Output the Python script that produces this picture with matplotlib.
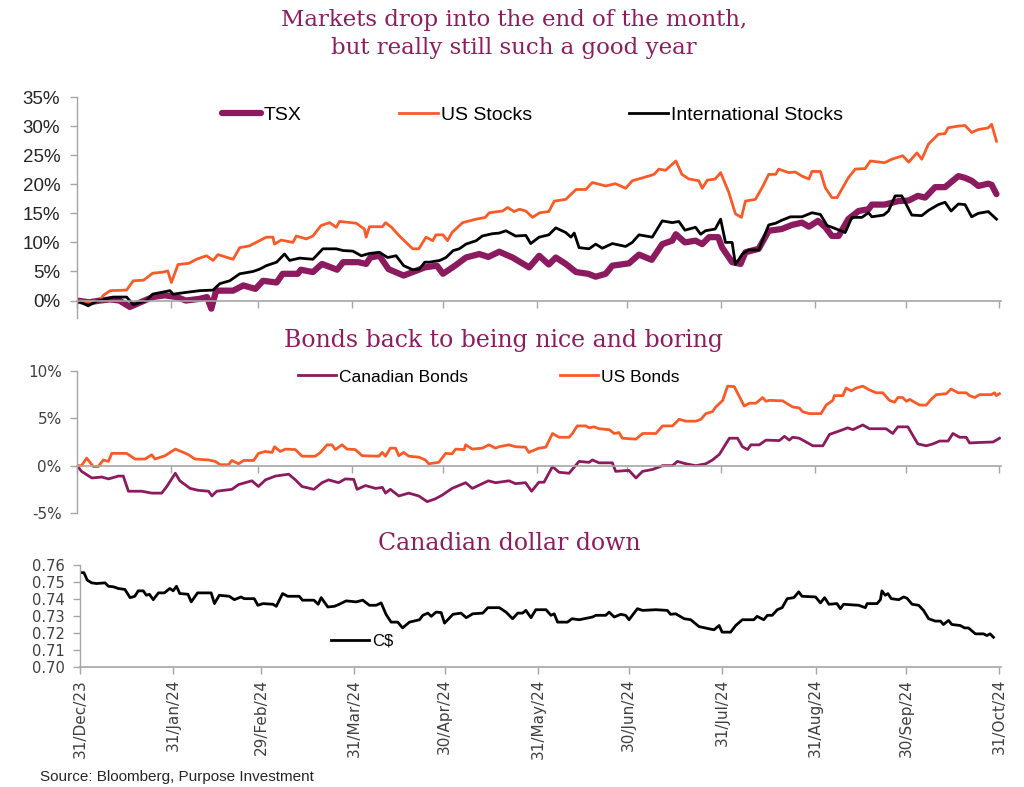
import matplotlib
matplotlib.use("Agg")
import matplotlib.pyplot as plt
import pandas as pd

# ---------------- data (day offset from 31/Dec/23, value) ----------------
tsx = [(0,0),(4,-0.3),(7.6,0),(11,0.2),(14,0),(17.5,-1.1),(21,-0.3),(25,0.6),(29,0.9),(33,0.6),(36,0),(40.6,0.3),
       (43,0.6),(44.4,-1.4),(46,1.7),(51.6,1.7),(55,2.6),(59,2.0),(61.5,3.4),(66,3.1),(68,4.6),(73,4.6),(74,5.3),
       (78,4.9),(81,6.3),(86,5.3),(88,6.6),(93,6.6),(95.6,6.3),(97,7.4),(100,7.7),(103,5.4),(108,4.3),(111,4.9),
       (115,5.7),(119,6.0),(121,4.6),(125,6.0),(128.6,7.4),(133,8.0),(136,7.5),(139.6,8.4),(144,7.4),(149.5,5.7),
       (152.8,7.7),(156,6.2),(158.3,7.4),(161.6,6.3),(165,4.9),(169,4.6),(171.5,4.1),(174.8,4.6),(177,6.0),
       (182.5,6.4),(185.8,7.9),(190,7.0),(193.5,9.7),(196.8,10.3),(198,11.4),(201,10.0),(204.5,10.3),(206.7,9.7),
       (209,10.9),(212,10.9),(213.3,9.1),(216.6,6.6),(219.4,6.3),(221,8.3),(225.4,8.9),(228.7,12.0),(233,12.3),
       (236.4,13.0),(239.7,13.4),(242,12.7),(245,13.7),(247.4,12.6),(249.6,11.1),(251.8,11.1),(255,14.0),
       (258.4,15.4),(261.7,15.7),(262.8,16.5),(267,16.5),(271.6,17.1),(275,17.2),(278,18.0),(280.4,17.7),
       (283.7,19.5),(287,19.5),(291.4,21.4),(293.6,21.1),(295.8,20.6),(298,19.7),(301.3,20.1),(302.4,19.9),(304,18.3)]

us_stocks = [(0,0),(4.2,-0.2),(7.6,0),(8.7,0.9),(11,1.7),(16.4,1.8),(18.6,3.4),(22,3.5),(25,4.7),(28.5,4.9),(30,5.1),
       (31.2,3.1),(33.4,6.2),(37,6.4),(39.5,7.1),(42.8,7.7),(45,6.9),(46.6,7.9),(51.6,7.1),(53.8,9.1),(57,9.4),
       (62.6,10.9),(64.8,10.9),(65.3,9.7),(67.5,10.4),(71.4,10.0),(72.5,11.1),(75.8,10.6),(78,11.1),(80.7,12.9),
       (83.5,13.4),(85.7,12.6),(86.8,13.6),(92.3,13.3),(95,12.3),(95.6,10.9),(96.7,12.7),(101,12.7),(102,13.4),
       (104,12.6),(106.6,11.1),(111,8.9),(113,8.9),(115.4,10.9),(117.6,10.3),(118.7,11.3),(121,11.3),(122.5,10.3),
       (124,11.7),(127.5,13.4),(132,14.0),(135,14.3),(136.3,15.1),(140.7,15.4),(142.4,16.0),(144.5,15.3),
       (146.3,15.7),(148.4,15.4),(150.6,14.3),(153,15.1),(156,15.3),(157.8,17.1),(161.6,17.4),(165,19.1),
       (168.2,19.1),(170.4,20.3),(174.8,19.7),(178,20.1),(181.4,19.3),(183.6,20.6),(187,21.1),(190.8,21.7),
       (192.4,22.6),(194.6,22.4),(198,24.0),(200,21.7),(202.3,20.9),(205.6,20.6),(206.7,19.3),(208.4,20.7),
       (211,20.9),(212.8,22.0),(215.5,18.6),(217.7,14.9),(219.7,14.3),(221,17.1),(224.3,17.4),(226.5,19.4),
       (228.7,21.7),(231,21.7),(232,22.6),(235.3,22.0),(237.5,22.1),(239.7,21.4),(242,20.9),(243,22.2),
       (245.8,22.2),(247.4,19.4),(249.6,17.7),(251.3,17.7),(255,21.1),(257.3,22.6),(260.6,22.7),(262.3,24.0),
       (267,23.7),(269.4,24.3),(273,24.9),(275,23.8),(277.7,25.4),(279.3,24.3),(281.5,26.9),(284.8,28.6),
       (287,28.7),(288,29.7),(291.4,30.0),(293.6,30.1),(295.8,28.9),(298,29.4),(301.3,29.7),(302.4,30.3),(304,27.4)]

intl_stocks = [(0,0),(3.7,-0.9),(6.5,-0.1),(12,0.6),(16.4,0.6),(18.6,-0.7),(23,0),(25,1.1),(30.7,1.7),(31.8,1.1),
       (36,1.4),(40.6,1.7),(45,1.8),(47.2,2.9),(50.5,3.4),(53.8,4.6),(58.2,5.0),(60.4,5.4),(62.6,6.0),(66,6.6),
       (68.6,8.0),(70.3,6.9),(73.6,7.3),(78,7.1),(81.3,8.9),(85.7,8.9),(88,8.6),(91.2,8.5),(94,7.7),(96.7,8.1),
       (100,8.3),(102.7,7.4),(105.5,7.7),(108,6.0),(111,5.3),(113.2,5.4),(115,6.6),(116.5,6.6),(120,6.9),(122,7.4),
       (124.4,8.6),(126.4,8.9),(128.6,9.7),(132,10.3),(134,11.1),(137.4,11.5),(139.6,11.6),(141.8,12.0),(145,11.1),
       (148.4,11.2),(150,9.8),(152.8,10.9),(156,11.3),(158.3,12.5),(161.6,11.7),(163.3,10.9),(164.4,11.6),(166,9.1),
       (169.3,8.9),(171.5,9.7),(173.7,9.0),(177,9.8),(181.4,9.3),(183.6,10.0),(185.8,11.3),(190.2,10.9),(193.5,13.7),
       (196.8,13.4),(199,13.6),(201,12.1),(204.5,12.6),(206.2,11.4),(207.8,12.0),(211,12.3),(212.8,14.0),(214.4,10.0),
       (216.6,10.0),(217.7,6.2),(220,8.0),(222,8.7),(225.4,8.7),(228.7,13.0),(231,13.3),(233,13.8),(235.9,14.4),
       (239.7,14.4),(243,15.1),(245.8,14.8),(248,12.9),(249.6,12.6),(254,11.7),(256.2,14.3),(259.5,14.3),(261.7,15.1),
       (262.8,14.4),(266.7,14.7),(268.3,15.4),(270.5,18.0),(272.7,18.0),(276,14.7),(279.3,14.6),(281.5,15.5),
       (284.8,16.5),(287,16.9),(289,15.4),(291.4,16.6),(293.6,16.5),(295.8,14.4),(298,15.0),(301.3,15.3),(304,14.0)]

cad_bonds = [(0,0),(1.5,-0.6),(4.9,-1.3),(8.2,-1.2),(10.4,-1.4),(13.7,-1.1),(15.3,-1.1),(17,-2.7),(21.4,-2.7),
       (24.7,-2.9),(28,-2.9),(29.7,-2.2),(32.5,-0.8),(34,-1.6),(37.4,-2.4),(40,-2.6),(43.5,-2.7),(44.6,-3.2),
       (46.2,-2.7),(51.2,-2.5),(53.4,-2.0),(57.8,-1.6),(60,-2.2),(62.3,-1.5),(65.6,-1.1),(70,-0.9),(72.2,-1.5),
       (74.4,-2.2),(78.3,-2.5),(81,-1.8),(83.2,-1.5),(86.5,-1.8),(88.7,-1.4),(91.5,-1.45),(92.6,-2.5),(95.4,-2.1),
       (98.7,-2.4),(101,-2.3),(102,-2.9),(103.6,-2.5),(106.4,-3.2),(109.7,-2.9),(113,-3.2),(115.8,-3.8),(118.5,-3.5),
       (120.8,-3.1),(124,-2.4),(128.5,-1.8),(130.7,-2.4),(136,-1.6),(138.4,-1.8),(142.8,-1.6),(145,-1.9),(148.3,-1.8),
       (150.3,-2.7),(152.7,-1.75),(154.4,-1.75),(157.2,-0.1),(159.4,-0.7),(162.7,-0.8),(166,0.45),(169.3,0.35),
       (170.4,0.6),(172.6,0.3),(177,0.3),(178.1,-0.6),(182.5,-0.5),(184.8,-1.3),(187,-0.6),(190.3,-0.4),(193.6,0),
       (196.9,0),(198.5,0.45),(201.3,0.2),(204.6,0),(207.9,0.2),(210.1,0.6),(212.4,1.2),(215.7,2.9),(218.4,2.9),
       (220,2.0),(221.7,1.7),(222.8,2.2),(225.6,2.2),(227.8,2.7),(232.2,2.65),(233.9,3.1),(235.5,2.7),(236.6,3.0),
       (238.8,2.9),(243.3,2.1),(246.6,2.1),(248.8,3.3),(253.2,3.8),(254.8,4.0),(256.5,3.8),(259.8,4.3),(262,3.9),
       (267.5,3.9),(269.7,3.4),(271.4,4.1),(274.7,4.1),(278,2.3),(280.8,2.1),(283,2.3),(285.2,2.6),(288,2.6),
       (289.6,3.4),(291.8,3.0),(294,3.0),(295.1,2.4),(298.4,2.45),(302.9,2.5),(305,2.9)]

us_bonds = [(0,0),(1.5,0),(3.2,0.8),(5.4,-0.1),(7,-0.1),(8.7,0.6),(10.4,0.45),(11.5,1.3),(16.4,1.3),(19.2,0.7),
       (22.5,0.7),(24.7,1.15),(25.8,0.7),(29.1,1.05),(32.5,1.75),(35.2,1.4),(36.9,1.15),(39,0.7),(43.5,0.6),
       (45.7,0.45),(47.4,0.1),(50.1,0.1),(51.2,0.55),(53.4,0.2),(55.1,0.55),(58.4,0.55),(60,1.3),(62.3,1.5),
       (64.5,1.4),(65.3,2.0),(67.2,1.5),(68.9,1.75),(72.2,1.7),(74.4,1.0),(78.8,1.0),(80.5,1.4),(82.7,2.2),
       (84.3,2.2),(85.4,1.7),(87.6,2.2),(89.3,1.75),(92,1.7),(94.3,1.05),(99.8,1.0),(100.9,1.4),(102,1.0),
       (103.6,1.85),(105.3,1.85),(106.4,1.05),(108,1.4),(109.7,1.0),(113,0.9),(115.2,0.6),(116.3,0.2),(119.6,0.35),
       (121.9,1.3),(124,1.25),(125.2,1.75),(128,1.7),(128.5,2.2),(130.7,1.75),(134,1.85),(136.2,2.2),(138.4,1.85),
       (139.5,2.0),(142.8,2.2),(145,2.0),(148.3,1.95),(149.4,1.4),(152.7,1.85),(155,1.95),(157.2,3.4),(159.4,3.0),
       (162.7,3.0),(163.8,3.4),(165.4,4.2),(168.2,4.2),(169.3,4.0),(171,4.1),(172.6,3.9),(176,3.8),(177.6,3.4),
       (179.2,3.5),(180.3,2.9),(184.8,2.8),(187,3.4),(191.4,3.4),(193.6,4.2),(196.9,4.2),(199.1,4.9),(201.3,4.7),
       (204.6,4.7),(206.3,4.9),(207.9,5.5),(210.1,5.7),(211.2,6.2),(213.5,6.9),(215.1,8.4),(217.3,8.35),(219,7.3),
       (220.6,6.3),(222.3,6.6),(224.5,6.6),(226.7,7.2),(227.8,6.8),(228.9,6.9),(233.3,6.85),(236.6,6.2),(238.8,6.1),
       (239.9,5.7),(242.1,5.5),(246,5.5),(247.7,6.4),(249.9,6.9),(250.4,7.4),(253.2,7.4),(254.3,8.2),(256,7.9),
       (257.6,8.2),(259.8,8.4),(262,8.0),(264.2,7.7),(266.4,7.7),(268.6,6.9),(270.3,6.7),(271.4,7.2),(273,7.2),
       (274.2,6.8),(275.3,7.0),(278.6,6.4),(280.8,6.4),(282.4,7.0),(284.1,7.5),(287.4,7.6),(289,8.1),(291.3,7.7),
       (294,7.7),(295.1,7.4),(296.8,7.2),(298.4,7.5),(302.3,7.5),(303.4,7.7),(303.9,7.4),(305,7.6)]

cad_usd = [(0,0.7555),(1.3,0.7555),(2.4,0.7511),(3.9,0.7495),(5.5,0.7491),(8.3,0.7495),(9.4,0.7475),(11,0.7472),
       (12.7,0.7462),(14.9,0.7456),(16.6,0.7408),(18.2,0.7416),(19.3,0.7448),(21,0.7448),(22,0.7422),(23,0.7428),
       (24.3,0.7396),(26,0.7436),(28,0.7436),(29.8,0.7462),(30.9,0.7448),(32,0.7475),(33.1,0.7432),(35.8,0.7428),
       (36.9,0.7383),(39,0.7436),(43.5,0.7436),(44.6,0.7373),(46.2,0.7422),(49.5,0.7416),(51.2,0.7396),(53.4,0.7412),
       (54.5,0.7402),(57.8,0.7402),(59,0.7363),(60.7,0.7373),(64,0.7369),(65.1,0.7357),(67.2,0.7432),(68.9,0.7416),
       (72.7,0.7416),(73.8,0.7393),(77.6,0.7393),(79,0.7369),(80,0.7408),(82.2,0.7353),(84.4,0.7357),(86,0.7369),
       (88.3,0.7389),(91.6,0.7383),(93.8,0.7393),(96,0.7363),(98.2,0.7363),(99.9,0.7377),(101.5,0.7310),
       (103.2,0.7264),(105.4,0.7264),(107,0.7230),(109.3,0.7264),(112.6,0.7278),(113.7,0.7304),(115.4,0.7317),
       (116.5,0.7298),(118.1,0.7323),(119.8,0.7320),(120.9,0.7258),(122,0.7278),(123.7,0.7310),(126.4,0.7317),
       (128.1,0.7290),(130.3,0.7313),(133.6,0.7317),(135.3,0.7349),(139.1,0.7349),(141.3,0.7323),(143.5,0.7284),
       (145.2,0.7317),(146.8,0.7317),(147.9,0.7333),(149.6,0.7290),(151.2,0.7337),(154.6,0.7337),(156.2,0.7304),
       (157.3,0.7313),(158.4,0.7264),(161.7,0.7264),(163.2,0.7284),(165.6,0.7278),(170,0.7294),(171.1,0.7304),
       (174.4,0.7304),(175.5,0.7323),(177.2,0.7294),(179.4,0.7310),(181,0.7304),(182.1,0.7278),(184.9,0.7343),
       (186.6,0.7333),(191,0.7337),(194.8,0.7333),(195.9,0.7310),(197.6,0.7313),(200.4,0.7284),(202.6,0.7278),
       (205.3,0.7238),(208.6,0.7225),(210.3,0.7219),(212,0.7244),(213,0.7205),(215.8,0.7205),(217.5,0.7244),
       (219.7,0.7278),(223.5,0.7278),(224.6,0.7298),(226.8,0.7278),(228,0.7304),(229.6,0.7304),(231.3,0.7337),
       (232.9,0.7349),(234.6,0.7402),(236.8,0.7408),(238.4,0.7442),(239.5,0.7416),(244,0.7412),(245.6,0.7377),
       (247,0.7408),(248.4,0.7369),(251.1,0.7373),(252.2,0.7343),(253.3,0.7369),(258.3,0.7363),(260.5,0.7349),
       (261.1,0.7373),(264.4,0.7373),(265.5,0.7396),(266,0.7448),(267.1,0.7422),(268,0.7432),(269.1,0.7402),
       (271.6,0.7396),(273.2,0.7412),(274.3,0.7405),(276,0.7369),(278.2,0.7363),(279.8,0.7333),(281.5,0.7284),
       (283.7,0.7270),(285.4,0.7270),(286.4,0.7250),(288.1,0.7274),(289.2,0.7250),(292,0.7244),(293.4,0.7230),
       (294.7,0.7230),(297,0.7195),(299.7,0.7195),(300.8,0.7185),(301.9,0.7195),(303,0.7175)]

tick_dates = ["2023-12-31","2024-01-31","2024-02-29","2024-03-31","2024-04-30","2024-05-31",
              "2024-06-30","2024-07-31","2024-08-31","2024-09-30","2024-10-31"]
top_yticks = [0, 5, 10, 15, 20, 25, 30, 35]
mid_yticks = [-5, 0, 5, 10]
bot_yticks = [0.70, 0.71, 0.72, 0.73, 0.74, 0.75, 0.76]

title1 = "Markets drop into the end of the month,\nbut really still such a good year"
title2 = "Bonds back to being nice and boring"
title3 = "Canadian dollar down"
source = "Source: Bloomberg, Purpose Investment"

# ---------------- styling ----------------
BASE = pd.Timestamp("2023-12-31")
PURPLE = "#8C1A5E"
ORANGE = "#FA5A28"
TITLE_C = "#8C1D5E"
AXIS_C = "#A6A6A6"
TXT_C = "#262626"
LBL_C = "#404040"

def series(pairs):
    d = [BASE + pd.Timedelta(days=p[0]) for p in pairs]
    v = [p[1] for p in pairs]
    return d, v

W, H = 1024, 787
fig = plt.figure(figsize=(W/100, H/100), dpi=100)

def px_axes(x0, x1, ytop, ybot):
    return fig.add_axes([x0/W, 1-ybot/H, (x1-x0)/W, (ybot-ytop)/H])

ticks = pd.to_datetime(tick_dates)
xmin, xmax = BASE, pd.Timestamp("2024-10-31") + pd.Timedelta(hours=12)

def style(ax, zero_spine=True, ypad=5):
    for s in ["top", "right"]:
        ax.spines[s].set_visible(False)
    ax.spines["left"].set_color(AXIS_C)
    ax.spines["bottom"].set_color(AXIS_C)
    ax.spines["left"].set_linewidth(1)
    ax.spines["bottom"].set_linewidth(1.2)
    if zero_spine:
        ax.spines["bottom"].set_position(("data", 0))
    ax.set_xlim(xmin, xmax)
    ax.set_xticks(ticks)
    ax.tick_params(axis="both", colors=AXIS_C, length=5, width=1, labelcolor=TXT_C)
    ax.tick_params(axis="y", pad=ypad)

# ---- top panel
ax1 = px_axes(77, 1001, 97, 318)
style(ax1, ypad=7)
ax1.set_ylim(-3, 35)
ax1.set_yticks(top_yticks)
ax1.set_yticklabels([f"{t}%" for t in top_yticks], fontsize=13.5, family="Liberation Sans")
ax1.tick_params(axis="x", labelbottom=False)
d, v = series(tsx); l1, = ax1.plot(d, v, color=PURPLE, lw=4.5, solid_capstyle="round", label="TSX")
d, v = series(us_stocks); l2, = ax1.plot(d, v, color=ORANGE, lw=2.0, label="US Stocks")
d, v = series(intl_stocks); l3, = ax1.plot(d, v, color="black", lw=2.0, label="International Stocks")
ax1.legend(handles=[l1, l2, l3], ncol=3, frameon=False, loc="center left",
           bbox_to_anchor=(222/W, 1-115/H), bbox_transform=fig.transFigure,
           prop={"family": "Liberation Sans", "size": 14}, handlelength=2.0, handletextpad=0.15,
           columnspacing=5.0, borderpad=0, borderaxespad=0)

# ---- middle panel
ax2 = px_axes(77, 1001, 371, 513)
style(ax2, ypad=6)
ax2.set_ylim(-5, 10)
ax2.set_yticks(mid_yticks)
ax2.set_yticklabels([f"{t}%" for t in mid_yticks], fontsize=11, family="DejaVu Sans", color=LBL_C)
ax2.tick_params(axis="x", labelbottom=False)
d, v = series(cad_bonds); m1, = ax2.plot(d, v, color=PURPLE, lw=2.0, label="Canadian Bonds")
d, v = series(us_bonds); m2, = ax2.plot(d, v, color=ORANGE, lw=2.0, label="US Bonds")
ax2.legend(handles=[m1, m2], ncol=2, frameon=False, loc="center left",
           bbox_to_anchor=(298/W, 1-377/H), bbox_transform=fig.transFigure,
           prop={"family": "Liberation Sans", "size": 12.5}, handlelength=2.2, handletextpad=0.15,
           columnspacing=5.3, borderpad=0, borderaxespad=0)

# ---- bottom panel
ax3 = px_axes(80, 1001, 565, 667)
style(ax3, zero_spine=False, ypad=6)
ax3.set_ylim(0.70, 0.76)
ax3.set_yticks(bot_yticks)
ax3.set_yticklabels([f"{t:.2f}" for t in bot_yticks], fontsize=10.5, family="DejaVu Sans", color=LBL_C)
ax3.set_xticklabels([t.strftime("%d/%b/%y") for t in ticks], rotation=90, fontsize=11,
                    family="DejaVu Sans", va="top", ha="center", color=LBL_C)
d, v = series(cad_usd); b1, = ax3.plot(d, v, color="black", lw=2.0, label="C$")
ax3.legend(handles=[b1], frameon=False, loc="center left",
           bbox_to_anchor=(331/W, 1-641/H), bbox_transform=fig.transFigure,
           prop={"family": "Liberation Sans", "size": 12}, handlelength=2.3, handletextpad=0.15,
           borderpad=0, borderaxespad=0)

# ---- titles and source
fig.text(514/W, 1-34/H, title1, ha="center", va="center", fontsize=16.5, color=TITLE_C,
         family="DejaVu Serif", linespacing=1.35)
fig.text(503/W, 1-340/H, title2, ha="center", va="center", fontsize=17, color=TITLE_C, family="DejaVu Serif")
fig.text(509/W, 1-543/H, title3, ha="center", va="center", fontsize=17, color=TITLE_C, family="DejaVu Serif")
fig.text(40/W, 1-777/H, source, ha="left", va="center", fontsize=11, color=TXT_C,
         family=["Liberation Sans Narrow", "Liberation Sans"])

fig.savefig("out.png", dpi=100, facecolor="white")
